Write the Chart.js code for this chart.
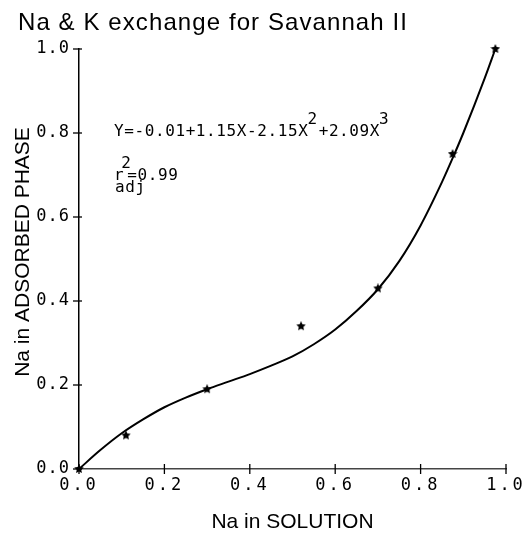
<!DOCTYPE html>
<html>
<head>
<meta charset="utf-8">
<script src="https://cdn.jsdelivr.net/npm/chart.js@4/dist/chart.umd.min.js"></script>
<style>
  html, body { margin: 0; padding: 0; background: #fff; }
  #wrap { width: 532px; height: 544px; }
</style>
</head>
<body>
<div id="wrap"><canvas id="c" width="532" height="544"></canvas></div>
<script>
// Labels
const chartTitle = 'Na & K exchange for Savannah II';
const xAxisTitle = 'Na in SOLUTION';
const yAxisTitle = 'Na in ADSORBED PHASE';
const tickValues = [0, 0.2, 0.4, 0.6, 0.8, 1.0];

// Measured equivalent fractions
const naSolution = [0, 0.11, 0.30, 0.52, 0.70, 0.875, 0.975];
const naAdsorbed = [0, 0.08, 0.19, 0.34, 0.43, 0.75, 1.0];

// Fitted curve, sampled
const fitX = [0, 0.05, 0.10, 0.15, 0.20, 0.25, 0.30, 0.35, 0.40, 0.45, 0.50, 0.55, 0.60, 0.65, 0.70, 0.75, 0.80, 0.85, 0.875, 0.90, 0.95, 0.975];
const fitY = [0, 0.045, 0.085, 0.118, 0.147, 0.170, 0.190, 0.208, 0.226, 0.246, 0.268, 0.297, 0.332, 0.376, 0.428, 0.495, 0.580, 0.683, 0.740, 0.800, 0.930, 1.0];

// Regression annotation
const fitEquation = ['Y=-0.01+1.15X-2.15X', '2', '+2.09X', '3'];
const fitR2 = ['r', '2', 'adj', '=0.99'];

const MONO = '"DejaVu Sans Mono", "Liberation Mono", monospace';
const SANS = '"Liberation Sans", "DejaVu Sans", sans-serif';

// Small filled five-point star used as the marker
function makeStar(size) {
  const cv = document.createElement('canvas');
  cv.width = size; cv.height = size;
  const g = cv.getContext('2d');
  const cx = size / 2, cy = size / 2, ro = size / 2, ri = ro * 0.48;
  g.beginPath();
  for (let i = 0; i < 10; i++) {
    const r = i % 2 === 0 ? ro : ri;
    const a = -Math.PI / 2 + i * Math.PI / 5;
    const px = cx + r * Math.cos(a), py = cy + r * Math.sin(a);
    if (i === 0) g.moveTo(px, py); else g.lineTo(px, py);
  }
  g.closePath();
  g.fillStyle = '#000';
  g.fill();
  return cv;
}
const starMarker = makeStar(10);

// Wider character spacing for the tick labels of each axis
const tickSpacing = {
  id: 'tickSpacing',
  beforeDraw(chart) {
    [['x', '3px'], ['y', '1px']].forEach(([id, sp]) => {
      const s = chart.scales[id];
      if (s._spaced) return;
      const base = Object.getPrototypeOf(s).drawLabels;
      s.drawLabels = function (area) {
        const ctx = this.ctx;
        ctx.save();
        ctx.letterSpacing = sp;
        base.call(this, area);
        ctx.restore();
      };
      s._spaced = true;
    });
  }
};

// Ticks that cross the axis lines
const crossTicks = {
  id: 'crossTicks',
  afterDatasetsDraw(chart) {
    const {ctx, scales: {x, y}} = chart;
    ctx.save();
    ctx.strokeStyle = '#000';
    ctx.lineWidth = 1.3;
    tickValues.forEach(v => {
      const px = x.getPixelForValue(v);
      ctx.beginPath(); ctx.moveTo(px, y.bottom - 5); ctx.lineTo(px, y.bottom + 5); ctx.stroke();
      const py = y.getPixelForValue(v);
      ctx.beginPath(); ctx.moveTo(x.left - 6, py); ctx.lineTo(x.left + 3, py); ctx.stroke();
    });
    ctx.restore();
  }
};

// Title, axis titles and regression text
const annotations = {
  id: 'annotations',
  afterDraw(chart) {
    const ctx = chart.ctx;
    const area = chart.chartArea;
    ctx.save();
    ctx.fillStyle = '#000';
    ctx.textBaseline = 'alphabetic';
    ctx.textAlign = 'left';

    // chart title, spread to its full width
    ctx.font = '24px ' + SANS;
    ctx.letterSpacing = '0px';
    const tw = ctx.measureText(chartTitle).width;
    ctx.letterSpacing = Math.max(0, (389 - tw) / (chartTitle.length - 1)).toFixed(2) + 'px';
    ctx.fillText(chartTitle, 18, 30);

    // axis titles
    ctx.letterSpacing = '0px';
    ctx.font = '21px ' + SANS;
    ctx.textAlign = 'center';
    ctx.textBaseline = 'middle';
    ctx.fillText(xAxisTitle, (area.left + area.right) / 2, 522);
    ctx.save();
    ctx.translate(23, 252);
    ctx.rotate(-Math.PI / 2);
    ctx.fillText(yAxisTitle, 0, 0);
    ctx.restore();

    // regression equation
    ctx.textAlign = 'left';
    ctx.textBaseline = 'alphabetic';
    ctx.font = '16px ' + MONO;
    ctx.letterSpacing = '0.6px';
    let cx = 114;
    const base = 136;
    const up = 12;
    ctx.fillText(fitEquation[0], cx, base); cx += ctx.measureText(fitEquation[0]).width;
    ctx.fillText(fitEquation[1], cx - 1, base - up); cx += ctx.measureText(fitEquation[1]).width;
    ctx.fillText(fitEquation[2], cx, base); cx += ctx.measureText(fitEquation[2]).width;
    ctx.fillText(fitEquation[3], cx - 1, base - up);

    // adjusted r squared
    const rx = 114;
    const rb = 180;
    ctx.fillText(fitR2[0], rx, rb);
    const rw = ctx.measureText(fitR2[0]).width;
    ctx.fillText(fitR2[1], rx + rw - 3, rb - up);
    ctx.fillText(fitR2[2], rx + 1, rb + 12);
    ctx.fillText(fitR2[3], rx + rw + 3, rb);
    ctx.restore();
  }
};

const tickFont = { family: MONO, size: 17 };

new Chart(document.getElementById('c'), {
  type: 'scatter',
  data: {
    datasets: [
      {
        type: 'line',
        data: fitX.map((v, i) => ({ x: v, y: fitY[i] })),
        borderColor: '#000',
        borderWidth: 2,
        pointRadius: 0,
        cubicInterpolationMode: 'monotone',
        fill: false,
        clip: false,
        order: 2
      },
      {
        data: naSolution.map((v, i) => ({ x: v, y: naAdsorbed[i] })),
        pointStyle: starMarker,
        backgroundColor: '#000',
        borderColor: '#000',
        clip: false,
        order: 1
      }
    ]
  },
  plugins: [tickSpacing, crossTicks, annotations],
  options: {
    responsive: false,
    animation: false,
    devicePixelRatio: 1,
    layout: { padding: { top: 49, right: 26, left: 0, bottom: 0 } },
    plugins: { legend: { display: false }, title: { display: false }, tooltip: { enabled: false } },
    scales: {
      x: {
        type: 'linear', min: 0, max: 1,
        afterBuildTicks: s => { s.ticks = tickValues.map(v => ({ value: v })); },
        afterFit: s => { s.height = 75; },
        grid: { display: false, drawTicks: false },
        border: { display: true, color: '#444', width: 1.5 },
        ticks: { color: '#000', font: tickFont, padding: 6, autoSkip: false, maxRotation: 0,
                 callback: v => Number(v).toFixed(1) },
        title: { display: false }
      },
      y: {
        type: 'linear', min: 0, max: 1,
        afterBuildTicks: s => { s.ticks = tickValues.map(v => ({ value: v })); },
        afterFit: s => { s.width = 79; },
        grid: { display: false, drawTicks: false },
        border: { display: true, color: '#000', width: 1.5 },
        ticks: { color: '#000', font: tickFont, padding: 9, autoSkip: false,
                 callback: v => Number(v).toFixed(1) },
        title: { display: false }
      }
    }
  }
});
</script>
</body>
</html>
